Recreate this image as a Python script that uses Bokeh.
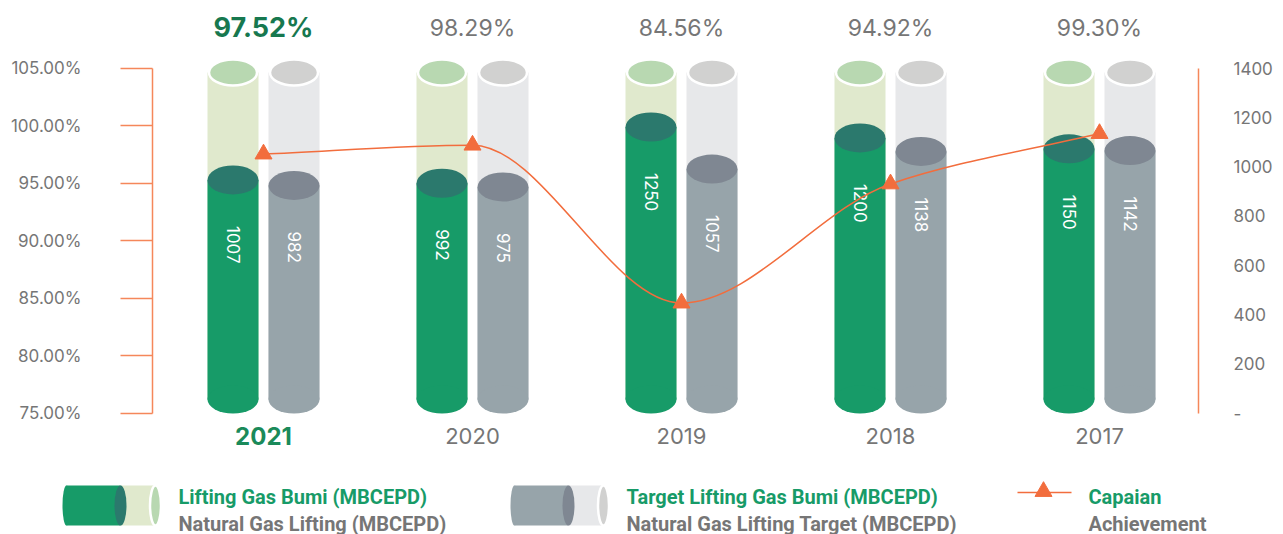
import math
from bokeh.plotting import figure
from bokeh.models import (ColumnDataSource, Range1d, LinearAxis, FixedTicker,
                          PrintfTickFormatter)
from bokeh.core.properties import value
from bokeh.embed import file_html
from bokeh.resources import INLINE

# ---------------- data ----------------
years = ["2021", "2020", "2019", "2018", "2017"]
lifting = [1007, 992, 1250, 1200, 1150]          # Lifting Gas Bumi (MBCEPD)
target = [982, 975, 1057, 1138, 1142]            # Target Lifting Gas Bumi (MBCEPD)
achievement = [97.52, 98.29, 84.56, 94.92, 99.30]  # Capaian (%)
left_ticks = [75, 80, 85, 90, 95, 100, 105]
right_ticks = [0, 200, 400, 600, 800, 1000, 1200, 1400]
legend_top = ["Lifting Gas Bumi (MBCEPD)", "Target Lifting Gas Bumi (MBCEPD)", "Capaian"]
legend_bottom = ["Natural Gas Lifting (MBCEPD)", "Natural Gas Lifting Target (MBCEPD)", "Achievement"]

# ---------------- styles ----------------
GREEN = "#179b68"
GREEN_CAP = "#2b796d"
GREEN_BG = "#e0e9cd"
GREEN_BG_CAP = "#b8d8b1"
GREY = "#97a4aa"
GREY_CAP = "#7f8792"
GREY_BG = "#e7e8ea"
GREY_BG_CAP = "#d1d1d0"
ORANGE = "#f26d3d"
AXIS_ORANGE = "#f5875a"
TEXT_GREY = "#767676"
HL_GREEN = "#17784f"
HL_YEAR = "#1a8a5a"
FONT = "Inter"
LFONT = "Roboto"

W = 1283
H = 471
LEG_H = 63

# layout helpers (pixel -> axis units)
PX_PER_PCT = 11.5
PCT_TOP = 67.5            # y of 105 %
BAR_ZERO = 399.0          # y of bar baseline
BAR_PX = 0.218            # px per MBCEPD for cylinders
BG_LEVEL = 1500           # height of the background (capacity) cylinders
STEP_PX = 209.0
FIRST_PX = 263.0          # x of first group
FRAME_L = 152
FRAME_R = 1198

def pct_at(py):
    return 105 - (py - PCT_TOP) / PX_PER_PCT

y_lo, y_hi = pct_at(H), pct_at(0)
r_lo, r_hi = (y_lo - 75) * 1400 / 30, (y_hi - 75) * 1400 / 30
b_lo, b_hi = -(H - BAR_ZERO) / BAR_PX, BAR_ZERO / BAR_PX
x_lo = (FRAME_L - FIRST_PX) / STEP_PX
x_hi = (FRAME_R - FIRST_PX) / STEP_PX

p = figure(width=W, height=H, x_range=Range1d(x_lo, x_hi), y_range=Range1d(y_lo, y_hi),
           output_backend="svg", toolbar_location=None,
           x_axis_location=None, y_axis_location=None,
           min_border_left=FRAME_L, min_border_right=W - FRAME_R,
           min_border_top=0, min_border_bottom=0)
p.extra_y_ranges = {"right": Range1d(r_lo, r_hi), "bars": Range1d(b_lo, b_hi)}
p.outline_line_color = None
p.grid.grid_line_color = None
p.background_fill_color = "white"
p.border_fill_color = "white"

# axes
la = LinearAxis(ticker=FixedTicker(ticks=left_ticks),
                formatter=PrintfTickFormatter(format="%.2f%%"), bounds=(75, 105))
ra = LinearAxis(y_range_name="right", ticker=FixedTicker(ticks=right_ticks), bounds=(0, 1400),
                major_label_overrides={0: "-"})
for ax in (la, ra):
    ax.axis_line_color = AXIS_ORANGE
    ax.axis_line_width = 1.5
    ax.major_tick_line_color = AXIS_ORANGE
    ax.major_tick_line_width = 1.5
    ax.major_tick_in = 0
    ax.minor_tick_in = 0
    ax.minor_tick_out = 0
    ax.major_label_text_color = TEXT_GREY
    ax.major_label_text_font = FONT
    ax.major_label_text_font_size = "17px"
la.major_tick_out = 32
la.major_label_standoff = 39
ra.major_tick_out = 0
ra.major_label_standoff = 35
p.add_layout(la, "left")
p.add_layout(ra, "right")

# cylinders
idx = list(range(len(years)))
OFF = 30.5 / STEP_PX
BW = 51 / STEP_PX
series = [
    (lifting, -OFF, GREEN, GREEN_CAP, GREEN_BG, GREEN_BG_CAP),
    (target, OFF, GREY, GREY_CAP, GREY_BG, GREY_BG_CAP),
]
for vals, off, col, capcol, bgcol, bgcap in series:
    xs = [i + off for i in idx]
    src = ColumnDataSource(dict(x=xs, v=vals, bg=[BG_LEVEL] * len(vals), z=[0] * len(vals),
                                t=[str(v) for v in vals]))
    p.vbar(x="x", top="bg", bottom="z", width=BW, source=src, y_range_name="bars",
           fill_color=bgcol, line_color=None)
    p.ellipse(x="x", y="bg", width=48, height=26, width_units="screen", height_units="screen",
              source=src, y_range_name="bars", fill_color=bgcap, line_color="white", line_width=2.5)
    p.vbar(x="x", top="v", bottom="z", width=BW, source=src, y_range_name="bars",
           fill_color=col, line_color=None)
    p.ellipse(x="x", y="z", width=51, height=28, width_units="screen", height_units="screen",
              source=src, y_range_name="bars", fill_color=col, line_color=None)
    p.ellipse(x="x", y="v", width=51, height=29, width_units="screen", height_units="screen",
              source=src, y_range_name="bars", fill_color=capcol, line_color=None)
    p.text(x="x", y="v", text="t", source=src, y_range_name="bars", angle=-math.pi / 2,
           y_offset=46, text_align="left", text_baseline="middle", text_color="white",
           text_font=value(FONT), text_font_size="17px")

# achievement curve (monotone cubic through the points, drawn as beziers)
n = len(achievement)
d = [achievement[i + 1] - achievement[i] for i in range(n - 1)]
m = [0.0] * n
m[0], m[-1] = d[0], d[-1]
for i in range(1, n - 1):
    m[i] = 0.0 if d[i - 1] * d[i] <= 0 else 2.0 / (1.0 / d[i - 1] + 1.0 / d[i])
bz = dict(x0=idx[:-1], y0=achievement[:-1], x1=idx[1:], y1=achievement[1:],
          cx0=[i + 1 / 3 for i in idx[:-1]], cy0=[achievement[i] + m[i] / 3 for i in range(n - 1)],
          cx1=[i + 1 - 1 / 3 for i in idx[:-1]], cy1=[achievement[i + 1] - m[i + 1] / 3 for i in range(n - 1)])
p.bezier(x0="x0", y0="y0", x1="x1", y1="y1", cx0="cx0", cy0="cy0", cx1="cx1", cy1="cy1",
         source=ColumnDataSource(bz), line_color=ORANGE, line_width=1.5)
p.scatter(x=idx, y=achievement, marker="triangle", size=17, fill_color=ORANGE, line_color=ORANGE)

# percentage labels on top and year labels below
hl = [i == 0 for i in idx]
top_src = ColumnDataSource(dict(
    x=idx, y=[pct_at(27)] * n, t=[f"{a:.2f}%" for a in achievement],
    c=[HL_GREEN if h else TEXT_GREY for h in hl],
    s=["bold" if h else "normal" for h in hl],
    fs=["27px" if h else "23px" for h in hl]))
p.text(x="x", y="y", text="t", source=top_src, text_align="center", text_baseline="middle",
       text_color="c", text_font_style="s", text_font_size="fs", text_font=value(FONT))
yr_src = ColumnDataSource(dict(
    x=idx, y=[pct_at(435)] * n, t=years,
    c=[HL_YEAR if h else TEXT_GREY for h in hl],
    s=["bold" if h else "normal" for h in hl],
    fs=["24px" if h else "22px" for h in hl]))
p.text(x="x", y="y", text="t", source=yr_src, text_align="center", text_baseline="middle",
       text_color="c", text_font_style="s", text_font_size="fs", text_font=value(FONT))

# ---------------- legend figure (page pixel coordinates) ----------------
lg = figure(width=W, height=LEG_H, x_range=Range1d(0, W), y_range=Range1d(H + LEG_H, H),
            output_backend="svg", toolbar_location=None, x_axis_location=None, y_axis_location=None,
            min_border=0)
lg.outline_line_color = None
lg.grid.grid_line_color = None

def cyl_icon(x0, col, capcol, bgcol, bgcap):
    yc, hh = 505, 40
    lg.quad(left=[x0 + 58], right=[x0 + 92], top=[yc - hh / 2], bottom=[yc + hh / 2],
            fill_color=bgcol, line_color=None)
    lg.ellipse(x=[x0 + 4], y=[yc], width=[8], height=[hh], fill_color=col, line_color=None)
    lg.quad(left=[x0 + 4], right=[x0 + 58], top=[yc - hh / 2], bottom=[yc + hh / 2],
            fill_color=col, line_color=None)
    lg.ellipse(x=[x0 + 58], y=[yc], width=[12], height=[hh], fill_color=capcol, line_color=None)
    lg.ellipse(x=[x0 + 93], y=[yc], width=[11], height=[hh], fill_color=bgcap,
               line_color="white", line_width=2.5)

cyl_icon(62, GREEN, GREEN_CAP, GREEN_BG, GREEN_BG_CAP)
cyl_icon(510, GREY, GREY_CAP, GREY_BG, GREY_BG_CAP)
lg.line(x=[1017, 1071], y=[492, 492], line_color=ORANGE, line_width=1.5)
lg.scatter(x=[1043], y=[491], marker="triangle", size=17, fill_color=ORANGE, line_color=ORANGE)

lg.text(x=[178, 626, 1088], y=[496] * 3, text=legend_top, text_baseline="middle",
        text_color=GREEN, text_font=value(LFONT), text_font_style="bold", text_font_size="20px")
lg.text(x=[178, 626, 1088], y=[523] * 3, text=legend_bottom, text_baseline="middle",
        text_color=TEXT_GREY, text_font=value(LFONT), text_font_style="bold", text_font_size="20px")

open("out.html", "w").write(file_html((p, lg), INLINE))
